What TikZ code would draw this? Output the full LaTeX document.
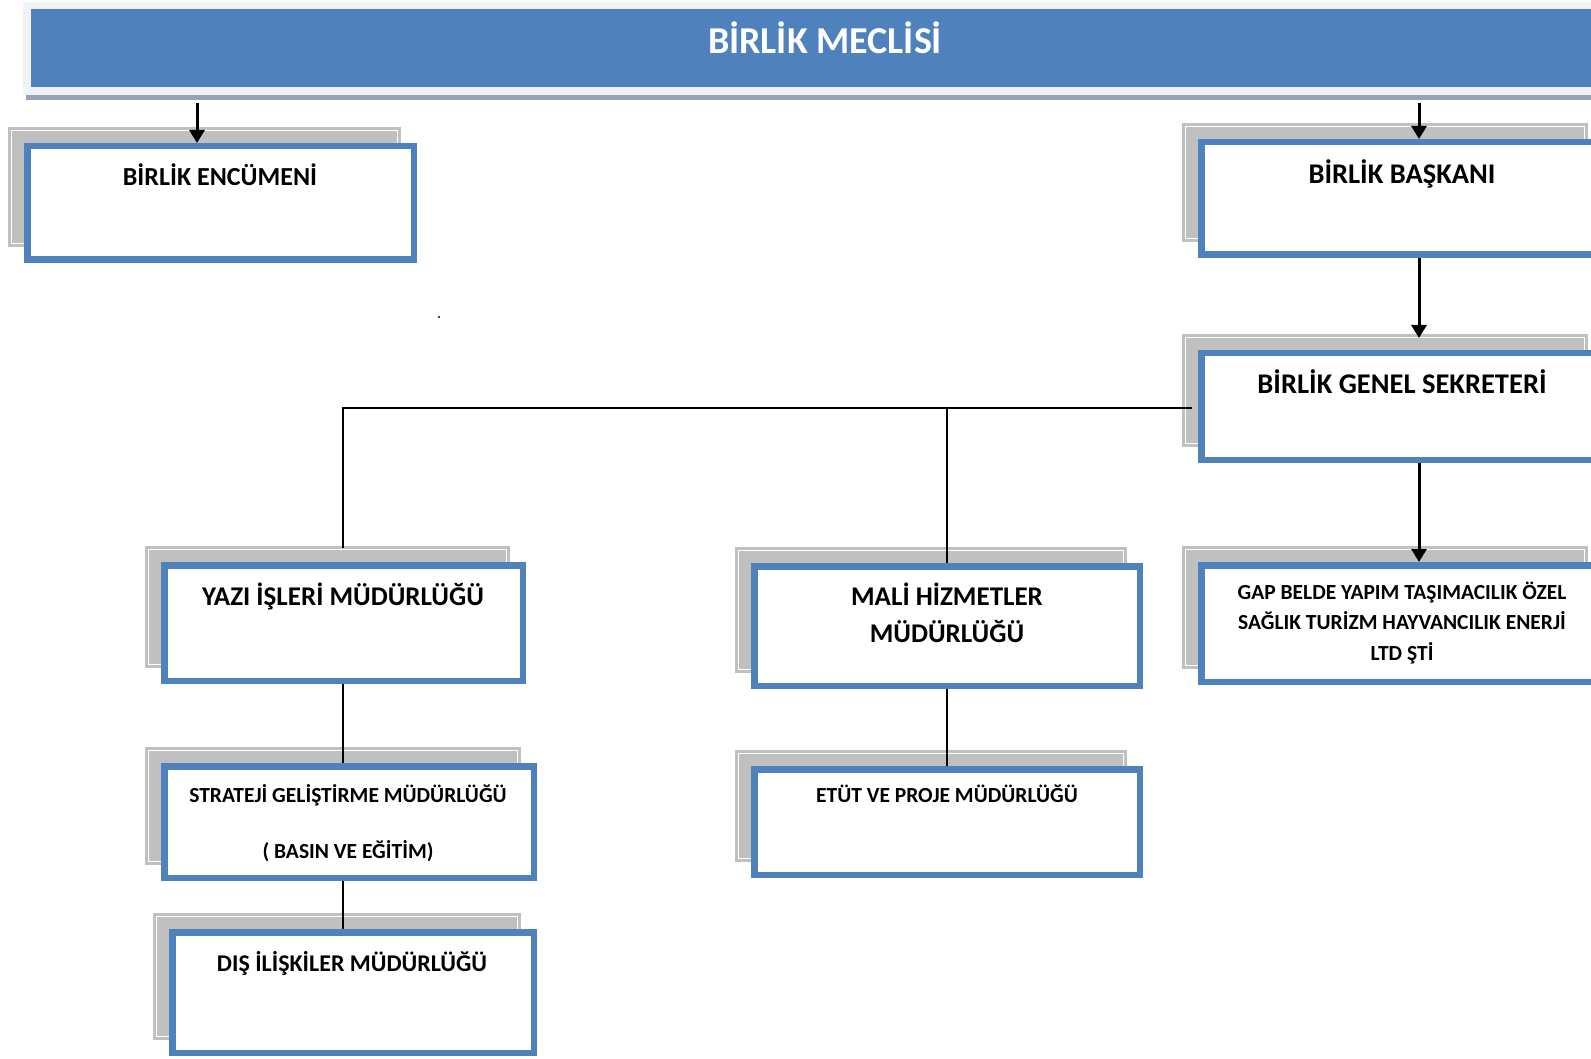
\documentclass[tikz,border=0pt]{standalone}
\usepackage{fontspec}
\setmainfont{Carlito}
\usepackage{tikz}
\usetikzlibrary{positioning,arrows.meta,shadows}

\definecolor{unitblue}{HTML}{4F81BD}
\definecolor{shadegray}{HTML}{C0C0C0}
\definecolor{framegray}{HTML}{F2F2F2}
\definecolor{stripgray}{HTML}{95A3B3}

\tikzset{
  unit/.style={draw=unitblue,line width=6.5pt,fill=white,inner sep=0pt,
    general shadow={shadow xshift=-16pt,shadow yshift=16pt,fill=shadegray,
      draw=shadegray,double=white,double distance=1pt,line width=2.75pt}},
  title/.style 2 args={anchor=base,align=center,inner sep=0pt,
    font=\bfseries\fontsize{#1}{#2}\selectfont},
  link/.style={line width=2pt},
  arr/.style={line width=3pt,-{Triangle[width=15pt,length=13pt]}}
}

\begin{document}
\begin{tikzpicture}[x=1pt,y=-1pt]
  \useasboundingbox (0,0) rectangle (1591,1059);
  \clip (0,0) rectangle (1591,1059);

  % banner
  \node(meclis) [fill=unitblue,draw=framegray,line width=7.5pt,inner sep=0pt,
    minimum width=1596pt,minimum height=85.5pt,
    general shadow={shadow xshift=3pt,shadow yshift=-5pt,fill=stripgray,
      draw=stripgray,line width=7.5pt}] at (825,48.25) {};
  \node(meclisT) [title={38}{46},text=white] at (825,54) {BİRLİK MECLİSİ};

  % units
  \node(enc) [unit,minimum width=386.5pt,minimum height=113.5pt] at (220.5,203) {};
  \node(baskan) [unit,minimum width=399.5pt,minimum height=112.5pt] at (1401,198.5) {};
  \node(sekreter) [unit,minimum width=399.5pt,minimum height=106.5pt] at (1401,406.5) {};
  \node(gap) [unit,minimum width=399.5pt,minimum height=116.5pt] at (1401,623.5) {};
  \node(yazi) [unit,minimum width=358.5pt,minimum height=115.5pt] at (343.5,623) {};
  \node(strateji) [unit,minimum width=369.5pt,minimum height=111.5pt] at (349,822) {};
  \node(dis) [unit,minimum width=361.5pt,minimum height=120.5pt] at (353,992.5) {};
  \node(mali) [unit,minimum width=385.5pt,minimum height=119.5pt] at (947,626) {};
  \node(etut) [unit,minimum width=385.5pt,minimum height=105.5pt] at (947,822) {};

  \node(encT) [title={26}{31}] at (220,186) {BİRLİK ENCÜMENİ};
  \node(baskanT) [title={28.5}{34}] at (1402,184) {BİRLİK BAŞKANI};
  \node(sekreterT) [title={28.5}{34}] at (1402,394) {BİRLİK GENEL SEKRETERİ};
  \node(gapT) [title={21.5}{30.5}] at (1402,660)
    {GAP BELDE YAPIM TAŞIMACILIK ÖZEL\\SAĞLIK TURİZM HAYVANCILIK ENERJİ\\LTD ŞTİ};
  \node(yaziT) [title={27}{32}] at (343,605) {YAZI İŞLERİ MÜDÜRLÜĞÜ};
  \node(stratejiT) [title={21.5}{56}] at (348,858)
    {STRATEJİ GELİŞTİRME MÜDÜRLÜĞÜ\\( BASIN VE EĞİTİM)};
  \node(disT) [title={24}{29}] at (352,971) {DIŞ İLİŞKİLER MÜDÜRLÜĞÜ};
  \node(maliT) [title={27}{37}] at (947,642) {MALİ HİZMETLER\\MÜDÜRLÜĞÜ};
  \node(etutT) [title={21.5}{26}] at (947,802) {ETÜT VE PROJE MÜDÜRLÜĞÜ};

  \coordinate(encIn) at (197,103);
  \coordinate(baskanIn) at (1419,103);
  \coordinate(sekIn) at (1419,338);
  \coordinate(bus) at (1192,408);
  \coordinate(yaziIn) at (343,548);

  \draw[arr] (encIn) -- (encIn |- enc.north);
  \draw[arr] (baskanIn) -- (baskanIn |- baskan.north);
  \draw[arr] (baskanIn |- baskan.south) -- (sekIn);
  \draw[arr] (baskanIn |- sekreter.south) -- (baskanIn |- gap.north);
  \draw[link] (bus) -- (yaziIn |- bus) -- (yaziIn);
  \draw[link] (mali.north |- bus) -- (mali.north);
  \draw[link] (yaziIn |- yazi.south) -- (yaziIn |- strateji.north);
  \draw[link] (yaziIn |- strateji.south) -- (yaziIn |- dis.north);
  \draw[link] (mali.south) -- (etut.north);

  \fill (439,317) circle (1.2pt);
\end{tikzpicture}
\end{document}
